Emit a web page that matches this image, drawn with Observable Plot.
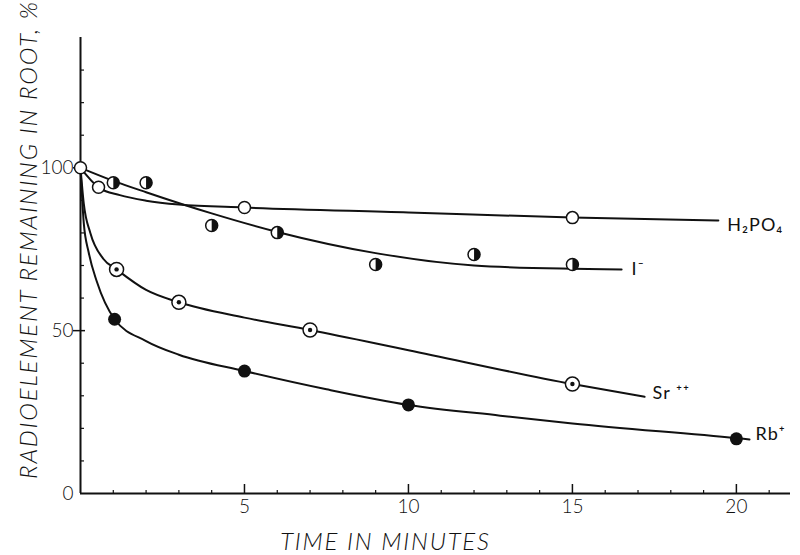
<!DOCTYPE html>
<html><head><meta charset="utf-8">
<script src="https://cdn.jsdelivr.net/npm/d3@7"></script>
<script src="https://cdn.jsdelivr.net/npm/@observablehq/plot@0.6"></script>
<style>
html,body{margin:0;padding:0;background:#fff;}
#chart svg{display:block;}
#chart g[font-style="italic"] text{letter-spacing:1.8px;}
#chart g[font-size="18"] text{letter-spacing:1px;}
</style></head><body><div id="chart"></div>
<script>
// ---- data (time in minutes, % remaining) ----
const xMajorTicks = [5, 10, 15, 20];
const xMinorTicks = [1,2,3,4,6,7,8,9,11,12,13,14,16,17,18,19,21];
const yLabelTicks = [0, 50, 100];
const yMajorTicks = [50, 100];
const yMinorTicks = [10,20,30,40,60,70,80,90,110,120,130];

// observed points
const h2po4Points = [[0,100],[0.55,94],[5,87.8],[15,84.7]];
const iPoints     = [[1,95.4],[2,95.4],[4,82.3],[6,80.1],[9,70.3],[12,73.4],[15,70.3]];
const srPoints    = [[1.1,68.8],[3,58.7],[7,50.2],[15,33.6]];
const rbPoints    = [[1.04,53.5],[5,37.6],[10,27.2],[20,16.8]];

// hand-drawn fitted curves
const h2po4Curve = [[0,100],[0.55,94],[1.2,91.6],[2,89.9],[3,88.7],[5,87.8],[10,86.3],[15,84.7],[19.45,83.8]];
const iCurve     = [[0,100],[1,96],[2,92.5],[4,86],[6,80.3],[9,73.8],[12,70],[15,69],[16.5,68.8]];
const srCurve    = [[0,100],[0.1,89],[0.3,80],[0.7,72],[1.1,68.8],[2,62.5],[3,58.7],[5,54],[7,50.2],[10,44],[15,33.6],[17.2,29.7]];
const rbCurve    = [[0,100],[0.1,83],[0.25,74],[0.5,65],[1.04,53.5],[2,46.8],[3,42.6],[5,37.6],[7.5,32],[10,27.2],[12.8,23.9],[15,21.5],[20,17],[20.4,16.6]];

const seriesLabels = ["H\u2082PO\u2084", "I\u207B", "Sr \u207A\u207A", "Rb\u207A"];
const xTitle = "TIME IN MINUTES";
const yTitle = "RADIOELEMENT REMAINING IN ROOT, %";

const curves = [h2po4Curve, iCurve, srCurve, rbCurve];
const ends = curves.map((c, i) => ({t: c[c.length-1][0], v: c[c.length-1][1], label: seriesLabels[i]}));

const halfRight = {
  draw(context, size) {
    const r = Math.sqrt(size / Math.PI);
    context.moveTo(0, -r);
    context.arc(0, 0, r, -Math.PI / 2, Math.PI / 2);
    context.closePath();
  }
};

const ink = "#111";
const font = "Lato, 'Open Sans', 'Liberation Sans', sans-serif";

const lineOpts = {x: d => d[0], y: d => d[1], curve: "monotone-x", stroke: ink, strokeWidth: 2};
const dotXY = {x: d => d[0], y: d => d[1]};
const labelOpts = {x: "t", y: "v", text: "label", textAnchor: "start", fontSize: 18, fill: ink};

const chart = Plot.plot({
  width: 800,
  height: 555,
  marginLeft: 80,
  marginRight: 10,
  marginTop: 37,
  marginBottom: 62,
  style: {fontFamily: font, color: ink, background: "#fff"},
  x: {domain: [0, 21.65], axis: null},
  y: {domain: [0, 140], axis: null},
  marks: [
    // axis lines
    Plot.ruleY([0], {stroke: ink, strokeWidth: 2}),
    Plot.ruleX([0], {stroke: ink, strokeWidth: 2}),
    // x ticks (pointing inward)
    Plot.axisX(xMinorTicks, {tickSize: 3, insetBottom: 3, tickFormat: () => "", label: null, stroke: ink, strokeWidth: 1.2}),
    Plot.axisX(xMajorTicks, {tickSize: 9, insetBottom: 9, tickFormat: () => "", label: null, stroke: ink, strokeWidth: 1.5}),
    Plot.axisX(xMajorTicks, {tickSize: 0, tickPadding: 6, fontSize: 19, fontWeight: 300, label: null, fill: ink}),
    // y ticks
    Plot.axisY(yMinorTicks, {tickSize: 4, insetLeft: 4, tickFormat: () => "", label: null, stroke: ink, strokeWidth: 1.2}),
    Plot.axisY(yMajorTicks, {tickSize: 12, insetLeft: 5, tickFormat: () => "", label: null, stroke: ink, strokeWidth: 1.5}),
    Plot.axisY(yLabelTicks, {tickSize: 0, tickPadding: 7, fontSize: 19, fontWeight: 300, label: null, fill: ink}),
    // fitted curves
    ...curves.map(c => Plot.line(c, lineOpts)),
    // markers
    Plot.dot(h2po4Points, {...dotXY, r: 6, fill: "#fff", stroke: ink, strokeWidth: 1.5}),
    Plot.dot(iPoints, {...dotXY, r: 6, fill: "#fff", stroke: ink, strokeWidth: 1.5}),
    Plot.dot(iPoints, {...dotXY, r: 6, symbol: halfRight, fill: ink, stroke: "none"}),
    Plot.dot(srPoints, {...dotXY, r: 7, fill: "#fff", stroke: ink, strokeWidth: 1.5}),
    Plot.dot(srPoints, {...dotXY, r: 2.2, fill: ink, stroke: "none"}),
    Plot.dot(rbPoints, {...dotXY, r: 6.5, fill: ink, stroke: "none"}),
    // series labels
    Plot.text([ends[0]], {...labelOpts, dx: 9, dy: 5}),
    Plot.text([ends[1]], {...labelOpts, dx: 10, dy: 0}),
    Plot.text([ends[2]], {...labelOpts, dx: 8, dy: -4}),
    Plot.text([ends[3]], {...labelOpts, dx: 6, dy: -5}),
    // axis titles
    Plot.text([xTitle], {frameAnchor: "bottom", textAnchor: "middle", lineAnchor: "middle", text: d => d, dx: -50, dy: 49, fontSize: 24, fontStyle: "italic", fontWeight: 300, fill: ink}),
    Plot.text([yTitle], {frameAnchor: "left", textAnchor: "middle", lineAnchor: "middle", text: d => d, rotate: -90, dx: -51, dy: -26, fontSize: 24, fontStyle: "italic", fontWeight: 300, fill: ink})
  ]
});
document.getElementById("chart").appendChild(chart);
</script>
</body></html>
